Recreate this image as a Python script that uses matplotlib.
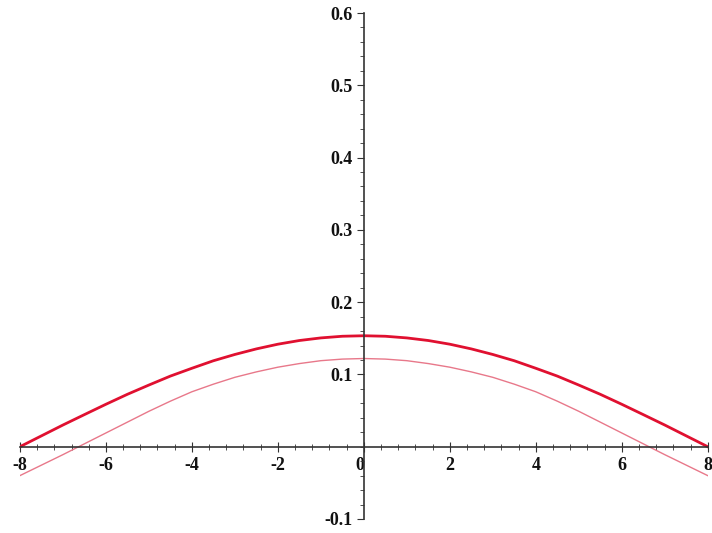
import matplotlib
matplotlib.use('Agg')
import matplotlib.pyplot as plt
from matplotlib.ticker import MultipleLocator

# values
x_vals = [-8, -7.5, -7, -6.5, -6, -5.5, -5, -4.5, -4, -3.5, -3, -2.5, -2, -1.5, -1, -0.5, 0,
          0.5, 1, 1.5, 2, 2.5, 3, 3.5, 4, 4.5, 5, 5.5, 6, 6.5, 7, 7.5, 8]
upper = [0.0, 0.015, 0.030, 0.0444, 0.0587, 0.0725, 0.0853, 0.0977, 0.1085, 0.1189,
         0.1276, 0.1353, 0.1418, 0.1469, 0.1505, 0.1528, 0.1535,
         0.1528, 0.1505, 0.1469, 0.1418, 0.1353, 0.1276, 0.1189, 0.1085, 0.0977,
         0.0853, 0.0725, 0.0587, 0.0444, 0.030, 0.015, 0.0]
lower = [-0.040, -0.0255, -0.011, 0.004, 0.019, 0.034, 0.049, 0.063, 0.076, 0.0865,
         0.096, 0.1035, 0.110, 0.115, 0.119, 0.1212, 0.122,
         0.1212, 0.119, 0.115, 0.110, 0.1035, 0.096, 0.0865, 0.076, 0.063,
         0.049, 0.034, 0.019, 0.004, -0.011, -0.0255, -0.040]

x_ticks = [-8, -6, -4, -2, 0, 2, 4, 6, 8]
y_ticks = [-0.1, 0.1, 0.2, 0.3, 0.4, 0.5, 0.6]

fig = plt.figure(figsize=(7.12, 5.33), dpi=100)
ax = fig.add_axes([0.028, 0.0263, 0.966, 0.9493])

ax.plot(x_vals, upper, color='#e01030', linewidth=2.0)
ax.plot(x_vals, lower, color='#e8788a', linewidth=1.0)

ax.set_xlim(-8, 8)
ax.set_ylim(-0.1, 0.6)

# axes crossing at origin
ax.spines['left'].set_position(('data', 0))
ax.spines['bottom'].set_position(('data', 0))
ax.spines['top'].set_visible(False)
ax.spines['right'].set_visible(False)
for s in ['left', 'bottom']:
    ax.spines[s].set_color('#333333')
    ax.spines[s].set_linewidth(1.2)

ax.set_xticks(x_ticks)
ax.set_xticklabels([str(t) for t in x_ticks])
ax.set_yticks(y_ticks)
ax.set_yticklabels(['-0.1', '0.1', '0.2', '0.3', '0.4', '0.5', '0.6'])
ax.xaxis.set_minor_locator(MultipleLocator(0.4))
ax.yaxis.set_minor_locator(MultipleLocator(0.02))

ax.tick_params(axis='x', which='both', direction='inout', color='#333333')
ax.tick_params(axis='x', which='major', length=7, pad=4)
ax.tick_params(axis='x', which='minor', length=4)
ax.tick_params(axis='y', which='both', direction='out', color='#333333')
ax.tick_params(axis='y', which='major', length=5, pad=3)
ax.tick_params(axis='y', which='minor', length=3)

for lab in ax.get_xticklabels() + ax.get_yticklabels():
    lab.set_fontfamily('Liberation Serif')
    lab.set_fontweight('bold')
    lab.set_fontsize(13)
    lab.set_color('#111111')

# the "0" on the x axis sits just left of the vertical axis
ax.get_xticklabels()[4].set_horizontalalignment('right')

plt.savefig('out.png', dpi=100)
